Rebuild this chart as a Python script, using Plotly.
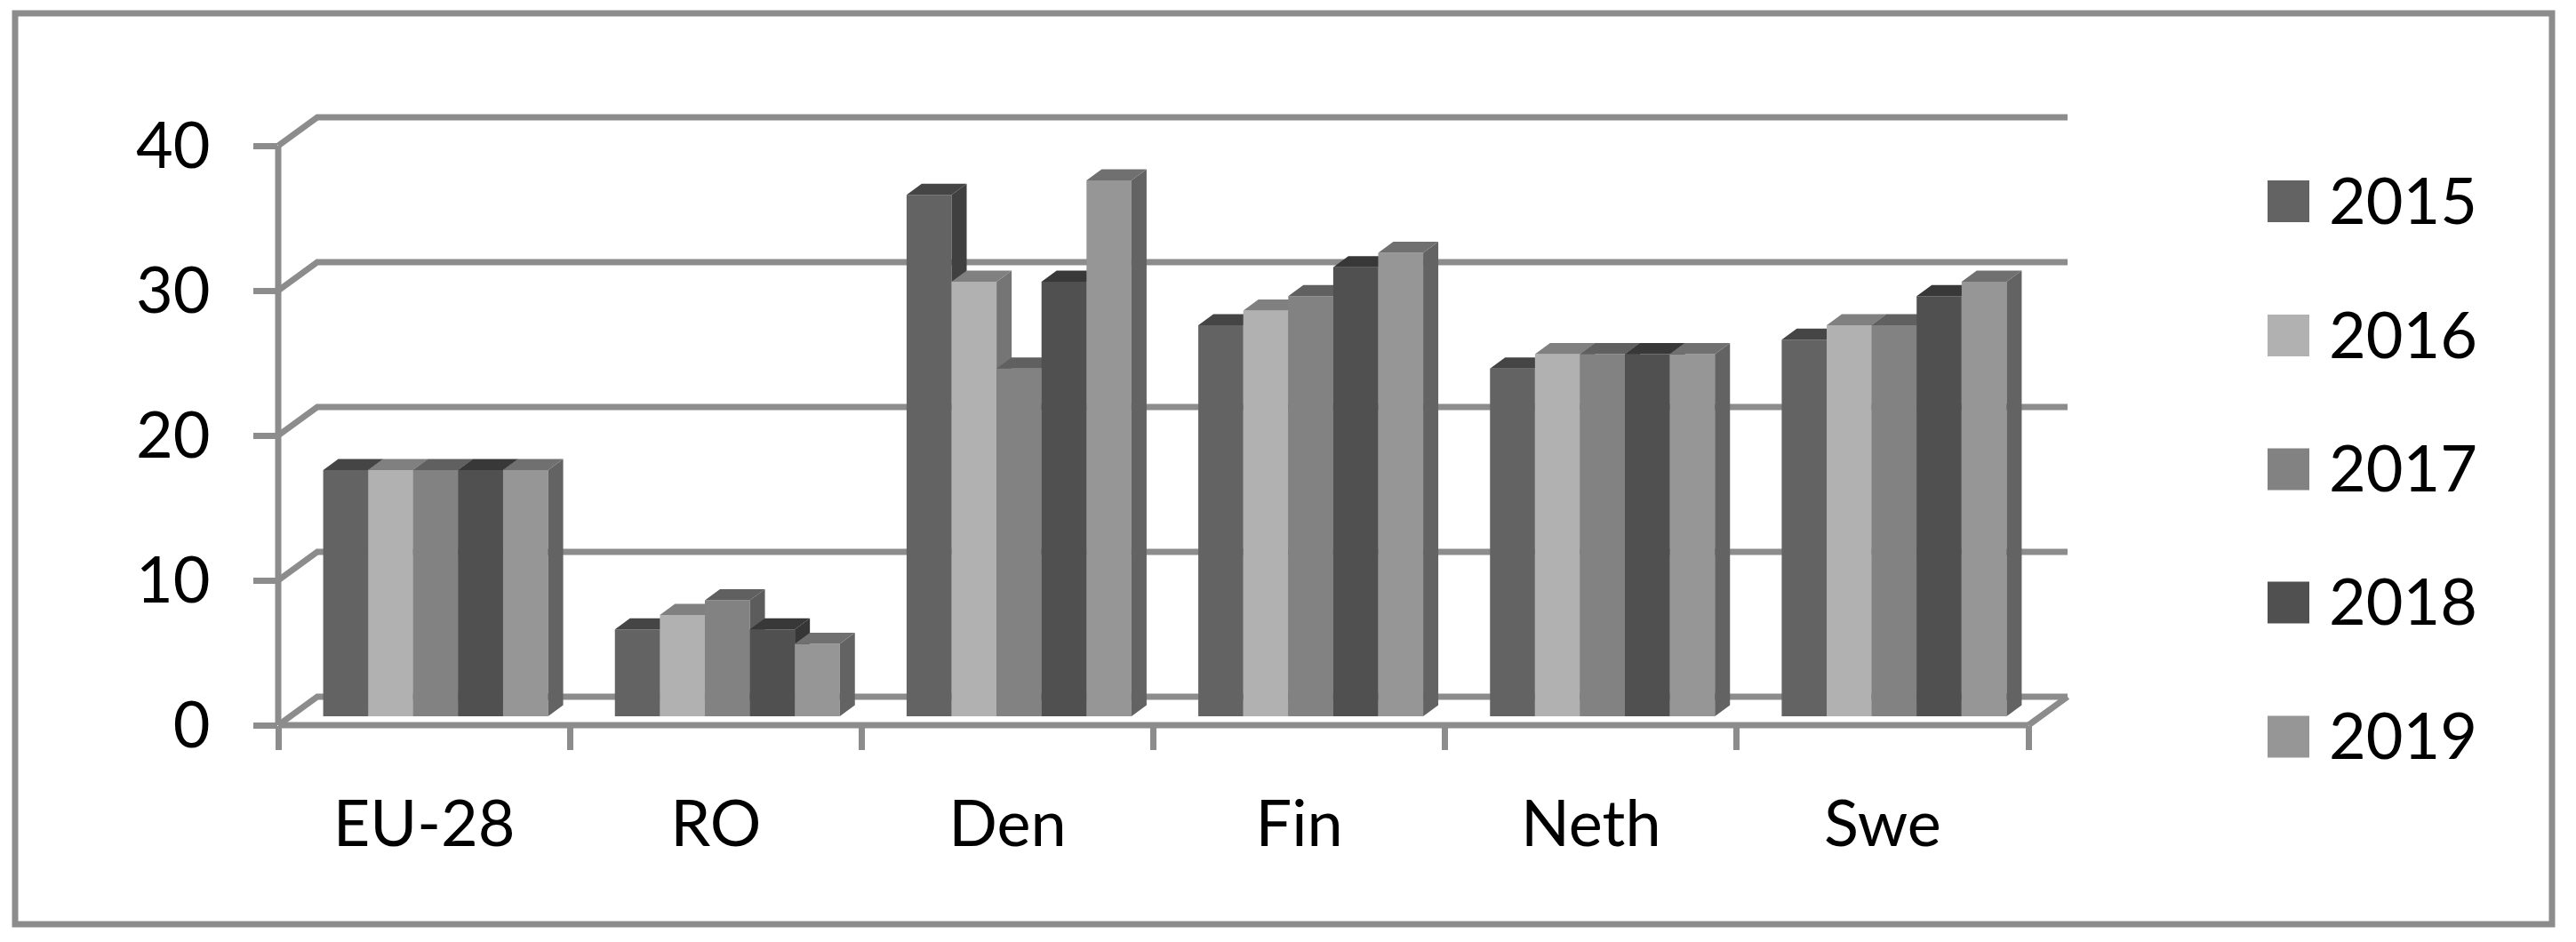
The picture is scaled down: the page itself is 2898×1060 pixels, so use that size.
import plotly.graph_objects as go

categories = ["EU-28", "RO", "Den", "Fin", "Neth", "Swe"]
years = ["2015", "2016", "2017", "2018", "2019"]
v2015 = [17, 6, 36, 27, 24, 26]
v2016 = [17, 7, 30, 28, 25, 27]
v2017 = [17, 8, 24, 29, 25, 27]
v2018 = [17, 6, 30, 31, 25, 29]
v2019 = [17, 5, 37, 32, 25, 30]
series = [v2015, v2016, v2017, v2018, v2019]
y_ticks = [0, 10, 20, 30, 40]

front = ["#636363", "#b1b1b1", "#828282", "#505050", "#969696"]
side = ["#404040", "#757575", "#5c5c5c", "#363636", "#636363"]
top = ["#454545", "#808080", "#606060", "#383838", "#707070"]
GREY = "#8c8c8c"
FONT = "Lato"
FS = 72
W, H = 2898, 1060

# pixel frame of the front plane
X0, X1, Y0, Y40 = 313, 2282, 816, 164
PX_X = (X1 - X0) / 6
PX_Y = (Y0 - Y40) / 40
WALL_PX_X, WALL_PX_Y = 44, 32
WALL_DX, WALL_DY = WALL_PX_X / PX_X, WALL_PX_Y / PX_Y  # depth of the box
BAR_SHIFT_X, BAR_SHIFT_Y = 13 / PX_X, 10 / PX_Y        # bars stand in from the front edge
BAR_DX, BAR_DY = 17 / PX_X, 12.5 / PX_Y                # depth of a bar
BAR_W = 50.6 / PX_X
PAD = 12  # room round the wall lines, which the subplot would otherwise clip

fig = go.Figure()
wall = dict(mode="lines", line=dict(color=GREY, width=7), showlegend=False, hoverinfo="skip")

# back wall, floor and the wall edges, on the wider subplot xy
for t in y_ticks:
    fig.add_trace(go.Scatter(x=[0, WALL_DX, 6 + WALL_DX], y=[t, t + WALL_DY, t + WALL_DY], **wall))
fig.add_trace(go.Scatter(x=[6, 6 + WALL_DX], y=[0, WALL_DY], **wall))
fig.add_trace(go.Scatter(x=[0, 0], y=[0, 40], **wall))
fig.add_trace(go.Scatter(x=[0, 6], y=[0, 0], **wall))

positions = [i + 0.5 for i in range(len(categories))]
# an empty trace on the front-plane axes keeps them drawn
fig.add_trace(go.Scatter(x=positions, y=[None] * len(positions), xaxis="x2", yaxis="y2",
                         mode="lines", showlegend=False, hoverinfo="skip"))

for s, vals in enumerate(series):
    n = s + 3
    xa, ya = f"x{n}", f"y{n}"
    offset = (s - 2.5) * BAR_W
    fig.add_trace(go.Bar(
        x=positions, y=vals, width=BAR_W, offset=offset, name=years[s],
        marker=dict(color=front[s], line=dict(width=0)), xaxis=xa, yaxis=ya,
        cliponaxis=False, showlegend=False))
    sx, sy, tx, ty = [], [], [], []
    for p, v in zip(positions, vals):
        l = p + offset
        r = l + BAR_W
        sx += [r, r + BAR_DX, r + BAR_DX, r, r, None]
        sy += [0, BAR_DY, v + BAR_DY, v, 0, None]
        tx += [l, l + BAR_DX, r + BAR_DX, r, l, None]
        ty += [v, v + BAR_DY, v + BAR_DY, v, v, None]
    for px, py, col in ((sx, sy, side[s]), (tx, ty, top[s])):
        fig.add_trace(go.Scatter(
            x=px, y=py, mode="lines", fill="toself", fillcolor=col,
            line=dict(width=0, color=col), xaxis=xa, yaxis=ya, cliponaxis=False,
            showlegend=False, hoverinfo="skip"))

layout = dict(
    width=W, height=H, autosize=False,
    margin=dict(l=0, r=0, t=0, b=0, pad=0, autoexpand=False),
    paper_bgcolor="white", plot_bgcolor="rgba(0,0,0,0)", showlegend=False,
    font=dict(family=FONT, color="black", size=FS), barmode="overlay",
    xaxis=dict(domain=[(X0 - PAD) / W, (X1 + WALL_PX_X + PAD) / W],
               range=[-PAD / PX_X, 6 + (WALL_PX_X + PAD) / PX_X], visible=False),
    yaxis=dict(domain=[1 - (Y0 + PAD) / H, 1 - (Y40 - WALL_PX_Y - PAD) / H],
               range=[-PAD / PX_Y, 40 + (WALL_PX_Y + PAD) / PX_Y], visible=False),
    xaxis2=dict(
        anchor="y2", domain=[X0 / W, X1 / W], range=[0, 6], tickmode="array",
        tickvals=positions, ticktext=categories, ticks="", showgrid=False, zeroline=False,
        showline=False, ticklabelstandoff=63,
        tickfont=dict(family=FONT, size=FS, color="black"),
        minor=dict(tickmode="array", tickvals=list(range(7)), ticks="outside", ticklen=27,
                   tickwidth=7, tickcolor=GREY, showgrid=False)),
    yaxis2=dict(
        anchor="x2", domain=[1 - Y0 / H, 1 - Y40 / H], range=[0, 40], tickmode="array",
        tickvals=y_ticks, ticks="outside", ticklen=27, tickwidth=7, tickcolor=GREY,
        showgrid=False, zeroline=False, showline=False,
        ticklabelstandoff=34, tickfont=dict(family=FONT, size=FS, color="black")),
)
for s in range(len(series)):
    n = s + 3
    layout[f"xaxis{n}"] = dict(overlaying="x2", anchor=f"y{n}", visible=False,
                               range=[-BAR_SHIFT_X, 6 - BAR_SHIFT_X], fixedrange=True)
    layout[f"yaxis{n}"] = dict(overlaying="y2", anchor=f"x{n}", visible=False,
                               range=[-BAR_SHIFT_Y, 40 - BAR_SHIFT_Y], fixedrange=True)

shapes = [dict(type="rect", xref="paper", yref="paper",
               x0=17 / W, x1=2871 / W, y0=1 - 1040 / H, y1=1 - 15 / H,
               line=dict(color=GREY, width=7), fillcolor="rgba(0,0,0,0)", layer="below")]
annotations = []
LEG_Y = [226.5, 377.5, 528, 678, 829]
for y, yr, col in zip(LEG_Y, years, front):
    shapes.append(dict(type="rect", xref="paper", yref="paper",
                       x0=2551 / W, x1=2598 / W, y0=1 - (y + 23.5) / H, y1=1 - (y - 23.5) / H,
                       line=dict(width=0), fillcolor=col))
    annotations.append(dict(text=yr, xref="paper", yref="paper", x=2618 / W, y=1 - (y - 3) / H,
                            xanchor="left", yanchor="middle", showarrow=False,
                            font=dict(family=FONT, size=FS, color="black")))
layout["shapes"] = shapes
layout["annotations"] = annotations
fig.update_layout(**layout)

fig.write_html("out.html", config=dict(displayModeBar=False),
               post_script="document.body.style.margin='0';document.body.style.overflow='hidden';")
